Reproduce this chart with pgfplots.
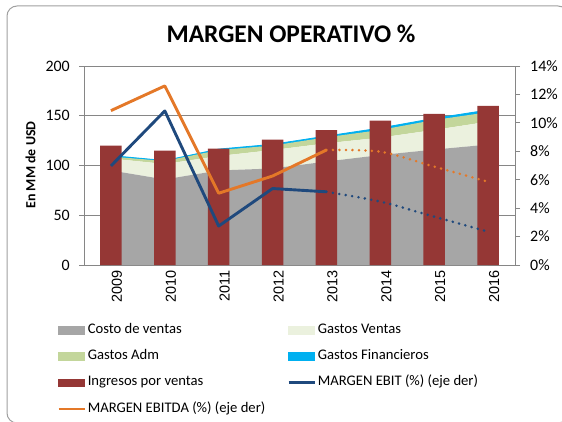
\documentclass[border=0pt]{standalone}
\usepackage{pgfplots}
\pgfplotsset{compat=1.18}
\usepackage{fontspec}
\setmainfont{Carlito}
\newfontfamily\arialf{Liberation Sans}
\definecolor{costo}{RGB}{166,166,166}
\definecolor{ventas}{RGB}{235,241,222}
\definecolor{adm}{RGB}{195,214,155}
\definecolor{fin}{RGB}{0,176,240}
\definecolor{ingr}{RGB}{149,55,53}
\definecolor{ebit}{RGB}{31,73,125}
\definecolor{ebitda}{RGB}{228,120,40}
\definecolor{axgray}{RGB}{134,134,134}
\definecolor{framec}{RGB}{160,160,160}

\pgfplotsset{
 base/.style={
   at={(84bp,156bp)}, anchor=south west, scale only axis,
   width=431bp, height=199bp, xmin=-0.5, xmax=7.5,
   /pgf/number format/assume math mode=true,
 }
}

\begin{document}
\begin{tikzpicture}[x=1bp,y=1bp]
\useasboundingbox (0,0) rectangle (562,421);
\draw[framec, line width=1bp, rounded corners=10bp] (7,-2) rectangle (568,415);

% stacked cost areas
\begin{axis}[base, ymin=0, ymax=200, stack plots=y,
  axis x line*=bottom, axis y line*=left,
  axis line style={axgray, line width=0.8bp},
  ytick={0,50,100,150,200}, ymajorgrids, grid style={axgray, line width=0.8bp},
  tick align=outside, major tick length=5bp,
  ytick style={axgray, line width=0.8bp},
  xtick={0,1,2,3,4,5,6,7},
  xticklabels={2009,2010,2011,2012,2013,2014,2015,2016},
  xtick style={draw=none},
  xticklabel style={font=\arialf\fontsize{14.5}{17}\selectfont, rotate=90, anchor=east, inner sep=0pt, yshift=-6bp},
  yticklabel style={font=\fontsize{16}{19}\selectfont, anchor=east, inner sep=0pt, xshift=-9bp},
]
\addplot[fill=costo, draw=none] coordinates {(0,95) (1,86) (2,95) (3,97) (4,104) (5,110.5) (6,116) (7,121)} \closedcycle;
\addplot[fill=ventas, draw=none] coordinates {(0,12) (1,15.5) (2,14.5) (3,18.5) (4,18.3) (5,17.5) (6,19.7) (7,23)} \closedcycle;
\addplot[fill=adm, draw=none] coordinates {(0,2) (1,3) (2,6) (3,4.5) (4,6) (5,7.7) (6,10) (7,9.5)} \closedcycle;
\addplot[fill=fin, draw=fin, line width=0.8bp] coordinates {(0,1) (1,0.5) (2,1) (3,1.3) (4,1.3) (5,2) (6,1.7) (7,2.3)} \closedcycle;
\end{axis}

% revenue bars
\begin{axis}[base, ymin=0, ymax=200, hide axis]
\addplot[ybar, bar width=21.5bp, fill=ingr, draw=none] coordinates {(0,120) (1,115) (2,117) (3,126) (4,135.5) (5,145) (6,152) (7,160)};
\end{axis}

% margins (right axis)
\begin{axis}[base, ymin=0, ymax=14, axis y line*=right, axis x line=none,
  axis line style={axgray, line width=0.8bp},
  ytick={0,2,4,6,8,10,12,14},
  yticklabel={\pgfmathprintnumber{\tick}\%},
  tick align=outside, major tick length=5bp,
  ytick style={axgray, line width=0.8bp},
  yticklabel style={font=\fontsize{16}{19}\selectfont, anchor=west, inner sep=0pt, xshift=10bp},
  legend columns=2, legend cell align=left,
  legend style={at={(axis description cs:-0.062,-0.293)}, anchor=north west,
    draw=none, fill=none, inner sep=0pt, outer sep=0pt, row sep=12.8bp,
    font=\fontsize{14.7}{17}\selectfont,
    nodes={inner sep=0pt, text height=10bp, text depth=3.5bp},
    /tikz/every odd column/.append style={column sep=2bp},
    /tikz/every even column/.append style={column sep=22bp}},
]
\addlegendimage{legend image code/.code={\fill[costo] (0bp,-3.7bp) rectangle (26bp,3.7bp);}}
\addlegendimage{legend image code/.code={\fill[ventas] (0bp,-3.7bp) rectangle (26bp,3.7bp);}}
\addlegendimage{legend image code/.code={\fill[adm] (0bp,-3.7bp) rectangle (26bp,3.7bp);}}
\addlegendimage{legend image code/.code={\fill[fin] (0bp,-3.7bp) rectangle (26bp,3.7bp);}}
\addlegendimage{legend image code/.code={\fill[ingr] (0bp,-3.7bp) rectangle (26bp,3.7bp);}}
\addplot[ebit, line width=2.9bp, line join=round,
  legend image code/.code={\draw[ebit, line width=2.5bp] (0bp,0bp) -- (26bp,0bp);}]
  coordinates {(0,6.97) (1,10.84) (2,2.74) (3,5.38) (4,5.15)};
\addplot[ebitda, line width=2.9bp, line join=round,
  legend image code/.code={\draw[ebitda, line width=2.5bp] (0bp,0bp) -- (26bp,0bp);}]
  coordinates {(0,10.86) (1,12.6) (2,5.05) (3,6.26) (4,8.09)};
\addplot[ebit, line width=2.8bp, dash pattern=on 0bp off 6.5bp, line cap=round, smooth, forget plot]
  coordinates {(4,5.15) (5,4.46) (6,3.4) (7,2.35)};
\addplot[ebitda, line width=2.8bp, dash pattern=on 0bp off 6.5bp, line cap=round, smooth, forget plot]
  coordinates {(4,8.09) (5,7.97) (6,6.92) (7,5.86)};
\legend{Costo de ventas, Gastos Ventas, Gastos Adm, Gastos Financieros, Ingresos por ventas, MARGEN EBIT (\%) (eje der), MARGEN EBITDA (\%) (eje der)}
\end{axis}

\node[font=\fontsize{25.5}{30}\selectfont\bfseries, anchor=base] at (291,378.3) {MARGEN OPERATIVO \%};
\node[font=\fontsize{14}{17}\selectfont\bfseries, rotate=90] at (30.5,256) {En MM de USD};
\end{tikzpicture}
\end{document}
